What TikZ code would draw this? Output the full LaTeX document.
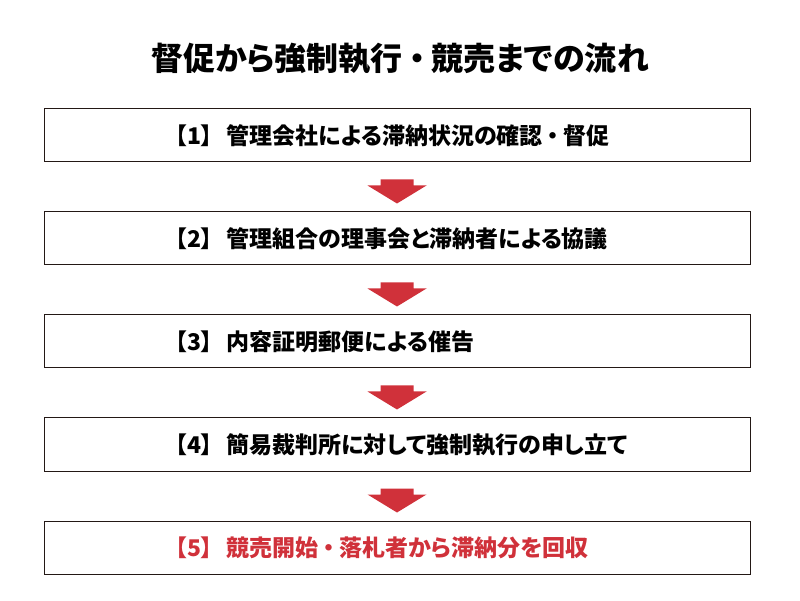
\documentclass[tikz,border=0pt]{standalone}
\usepackage{fontspec}
\setmainfont{Noto Sans CJK JP Black}[RawFeature=+palt]
\usetikzlibrary{calc}
\definecolor{flowred}{HTML}{D0313A}
\definecolor{flowline}{HTML}{231815}
\newcommand{\flowarrow}[2]{%
\fill[flowred] ($(#1.south)+(-16.5,-17)$) -- ($(#1.south)+(16.5,-17)$)
  -- ($(#1.south)+(16.5,-23)$) -- ($(#1.south)+(29.5,-23)$)
  -- ($(#2.north)+(0,8)$) -- ($(#1.south)+(-29.5,-23)$)
  -- ($(#1.south)+(-16.5,-23)$) -- cycle;}
\newcommand{\stepno}[1]{【#1】\hspace{14pt}}
\newcommand{\dotsep}{\hspace{.2em}・\hspace{.2em}}

\begin{document}
\begin{tikzpicture}
[x=1pt,y=1pt,
box/.style={draw=flowline,line width=1pt,rectangle,minimum width=706pt,minimum height=53pt,inner sep=0pt},
txt/.style={anchor=west,inner sep=0pt,font=\fontsize{23}{26}\selectfont},
title/.style={inner sep=0pt,font=\fontsize{32}{36}\selectfont}]
%%
\useasboundingbox (0,0) rectangle (800,600);
%%
%%%%%%%%%%%%%%%%%%
% title
%%%%%%%%%%%%%%%%%%
\node[title] (head) at (400,541) {督促から強制執行\dotsep 競売までの流れ};
%%
%%%%%%%%%%%%%%%%%%
% steps
%%%%%%%%%%%%%%%%%%
\node[box] (s1) at (397,464.5) {};
\node[txt] (t1) at ($(s1.west)+(132,0)$) {\stepno{1}管理会社による滞納状況の確認\dotsep 督促};
%%
\node[box] (s2) at (397,361.5) {};
\node[txt] (t2) at ($(s2.west)+(132,0)$) {\stepno{2}管理組合の理事会と滞納者による協議};
%%
\node[box] (s3) at (397,258.5) {};
\node[txt] (t3) at ($(s3.west)+(132,0)$) {\stepno{3}内容証明郵便による催告};
%%
\node[box] (s4) at (397,155.5) {};
\node[txt] (t4) at ($(s4.west)+(132,0)$) {\stepno{4}簡易裁判所に対して強制執行の申し立て};
%%
\node[box] (s5) at (397,52.5) {};
\node[txt,text=flowred] (t5) at ($(s5.west)+(132,0)$) {\stepno{5}競売開始\dotsep 落札者から滞納分を回収};
%%
%%%%%%%%%%%%%%%%%%
% arrows
%%%%%%%%%%%%%%%%%%
\flowarrow{s1}{s2}
\flowarrow{s2}{s3}
\flowarrow{s3}{s4}
\flowarrow{s4}{s5}
%%
\end{tikzpicture}
\end{document}
